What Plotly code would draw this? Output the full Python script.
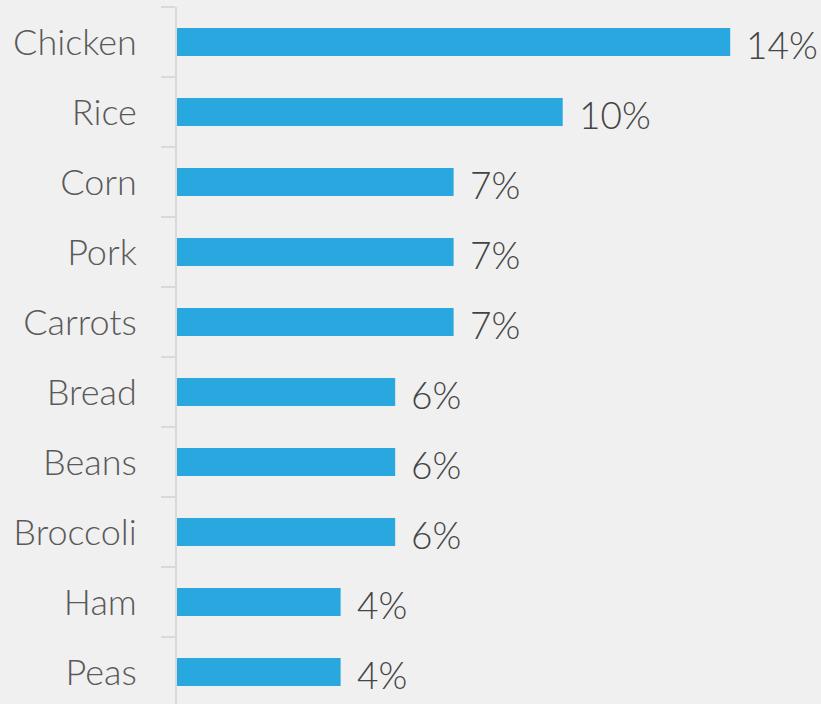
import plotly.graph_objects as go

# Share of responses per food item (percent)
foods = ["Chicken", "Rice", "Corn", "Pork", "Carrots",
         "Bread", "Beans", "Broccoli", "Ham", "Peas"]
shares = [14.2, 9.9, 7.1, 7.1, 7.1, 5.6, 5.6, 5.6, 4.2, 4.2]

BAR_COLOR = "#29A8E0"
BG = "#F0F0F0"
FONT = "Lato"

fig = go.Figure(
    go.Bar(
        x=shares,
        y=foods,
        orientation="h",
        marker=dict(color=BAR_COLOR, line=dict(width=0)),
        hoverinfo="skip",
    )
)

# Value labels to the right of each bar, rounded to whole percent
for f, v in zip(foods, shares):
    fig.add_annotation(
        x=v, y=f, text=f"{v:.0f}%",
        xanchor="left", yanchor="middle",
        xshift=14, yshift=-2,
        showarrow=False,
        font=dict(family=FONT, size=37, color="#444444", weight=300),
    )

fig.update_layout(
    width=821, height=704,
    margin=dict(l=177, r=0, t=7, b=0),
    paper_bgcolor=BG, plot_bgcolor=BG,
    bargap=0.6,
    showlegend=False,
    xaxis=dict(range=[0, 16.53], visible=False, fixedrange=True),
    yaxis=dict(
        type="category",
        range=[9.457, -0.5],
        showline=True, linecolor="#D9D9D9", linewidth=2,
        ticks="outside", tickson="boundaries", ticklen=14,
        tickwidth=2, tickcolor="#D9D9D9",
        ticklabelstandoff=31,
        showgrid=False, zeroline=False,
        tickfont=dict(family=FONT, size=36, color="#595959", weight=300),
        fixedrange=True,
    ),
)

fig.write_html("out.html")
